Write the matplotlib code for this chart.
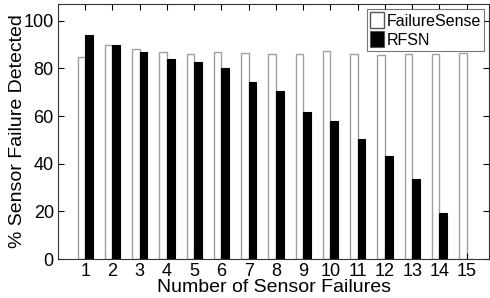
import matplotlib
matplotlib.use("Agg")
import matplotlib.pyplot as plt
import numpy as np

plt.rcParams['font.family'] = ['Liberation Sans', 'DejaVu Sans']

sensors = list(range(1, 16))
failuresense = [84.8, 90.0, 88.3, 86.8, 86.0, 86.9, 86.4, 86.2, 86.2, 87.1, 86.0, 85.5, 86.2, 86.2, 86.5]
rfsn = [93.9, 90.0, 86.7, 83.9, 82.6, 80.1, 74.1, 70.7, 61.6, 57.9, 50.2, 43.3, 33.4, 19.3, 0.0]
yticks = [0, 20, 40, 60, 80, 100]

fig = plt.figure(figsize=(4.9, 2.98), dpi=100)
ax = fig.add_axes([58/490, 1 - 259/298, (489 - 58)/490, (259 - 4)/298])

x = np.array(sensors)
w = 0.28
ax.bar(x - w/2, failuresense, width=w, color='white', edgecolor='#a0a0a0', linewidth=1.0)
ax.bar(x + w/2, rfsn, width=w, color='black', edgecolor='black', linewidth=0.8)

ax.set_xlim(0, 1 + (489 - 85)/27.26)
ax.set_ylim(0, 107)
ax.set_xticks(sensors)
ax.set_yticks(yticks)
ax.tick_params(direction='in', top=True, right=True, labelsize=13, length=4, width=0.8, pad=3)
for s in ax.spines.values():
    s.set_linewidth(0.8)
    s.set_color('#333333')

ax.set_xlabel('Number of Sensor Failures', fontsize=14, labelpad=-1)
ax.set_ylabel('% Sensor Failure Detected', fontsize=14, labelpad=-2)

leg = ax.legend(['FailureSense', 'RFSN'], loc='upper right', fontsize=11.5,
                frameon=True, fancybox=False, borderpad=0.2, handlelength=0.9,
                handleheight=1.2, handletextpad=0.15, labelspacing=0.15,
                borderaxespad=0.3)
leg.get_frame().set_edgecolor('#555555')
leg.get_frame().set_linewidth(0.8)
for h in leg.legend_handles:
    h.set_edgecolor('#555555')

fig.savefig('out.png', dpi=100)
